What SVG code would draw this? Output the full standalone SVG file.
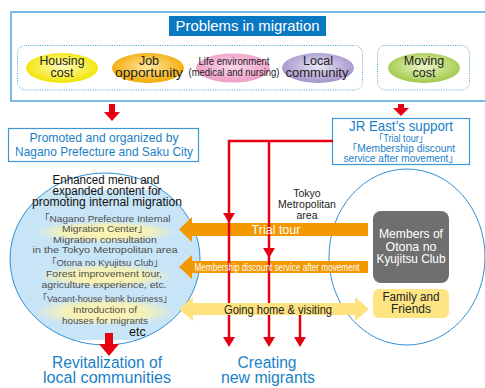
<svg xmlns="http://www.w3.org/2000/svg" width="485" height="388" viewBox="0 0 485 388">
<defs>
<style>
text{font-family:"Liberation Sans","Noto Sans CJK JP",sans-serif;text-anchor:middle}
.dot{fill:none;stroke:#4a9fd8;stroke-width:1;stroke-dasharray:1 1.4}
.red{fill:none;stroke:#e50012;stroke-width:2.5}
.redf{fill:#e50012}
.org{fill:#f39800}
.blue{fill:#1a7fc7}
.bx{fill:#fff;stroke:#3d97d6;stroke-width:1.2}
.el{font-size:12.5px;fill:#222}
.gr{font-size:9.8px;fill:#4d4d4d}
.hd{font-size:12px;fill:#111}
</style>
<marker id="ah" viewBox="0 0 10 12" refX="4" refY="6" markerWidth="10" markerHeight="12" markerUnits="userSpaceOnUse" orient="auto">
<path d="M0,0 L10,6 L0,12 z" fill="#e50012"/>
</marker>
<radialGradient id="gH" cx="50%" cy="45%" r="55%"><stop offset="0" stop-color="#fffcc0"/><stop offset="1" stop-color="#f2e400"/></radialGradient>
<radialGradient id="gJ" cx="50%" cy="45%" r="55%"><stop offset="0" stop-color="#ffe9a0"/><stop offset="1" stop-color="#f2a800"/></radialGradient>
<radialGradient id="gL" cx="50%" cy="45%" r="55%"><stop offset="0" stop-color="#fcd8e9"/><stop offset="1" stop-color="#ee9cc6"/></radialGradient>
<radialGradient id="gC" cx="50%" cy="45%" r="55%"><stop offset="0" stop-color="#e8e3f3"/><stop offset="1" stop-color="#a393cb"/></radialGradient>
<radialGradient id="gM" cx="50%" cy="45%" r="55%"><stop offset="0" stop-color="#eaf4c6"/><stop offset="1" stop-color="#a2c94a"/></radialGradient>
<radialGradient id="glow" cx="50%" cy="50%" r="50%"><stop offset="0" stop-color="#fff6b0"/><stop offset="0.6" stop-color="#fff3a8" stop-opacity="0.8"/><stop offset="1" stop-color="#fff3a8" stop-opacity="0"/></radialGradient>
<clipPath id="cl"><ellipse cx="105" cy="259" rx="95" ry="86"/></clipPath>
</defs>

<g id="problems">
<rect x="11" y="12" width="480" height="89" fill="#fff" stroke="#5aaae0" stroke-width="1.6"/>
<rect x="169" y="16" width="157" height="20" fill="#0b78c2"/>
<text x="247.5" y="31" font-size="14.5" fill="#fff" textLength="144" lengthAdjust="spacingAndGlyphs">Problems in migration</text>
<rect class="dot" x="17.5" y="45.5" width="345" height="44.5" rx="8"/>
<rect class="dot" x="377.5" y="45.5" width="92" height="44.5" rx="8"/>
</g>

<g id="housing">
<ellipse cx="62" cy="68" rx="36" ry="15" fill="url(#gH)"/>
<text class="el" x="62" y="65" textLength="45" lengthAdjust="spacingAndGlyphs">Housing</text>
<text class="el" x="62" y="77">cost</text>
</g>
<g id="job">
<ellipse cx="148" cy="68" rx="36" ry="15" fill="url(#gJ)"/>
<text class="el" x="149" y="65">Job</text>
<text class="el" x="149" y="77" textLength="68" lengthAdjust="spacingAndGlyphs">opportunity</text>
</g>
<g id="life">
<ellipse cx="233" cy="68" rx="37" ry="14.5" fill="url(#gL)"/>
<text x="234" y="65" font-size="10" fill="#222" textLength="71" lengthAdjust="spacingAndGlyphs">Life environment</text>
<text x="234" y="76" font-size="10" fill="#222" textLength="91" lengthAdjust="spacingAndGlyphs">(medical and nursing)</text>
</g>
<g id="local">
<ellipse cx="318" cy="68" rx="36" ry="15" fill="url(#gC)"/>
<text class="el" x="318" y="65">Local</text>
<text class="el" x="317" y="77" textLength="63" lengthAdjust="spacingAndGlyphs">community</text>
</g>
<g id="moving">
<ellipse cx="424" cy="68" rx="36" ry="15" fill="url(#gM)"/>
<text class="el" x="424" y="65">Moving</text>
<text class="el" x="424" y="77">cost</text>
</g>

<g id="promoted">
<rect class="bx" x="8.5" y="128.5" width="190" height="33"/>
<text class="blue" x="104" y="142" font-size="13" textLength="149" lengthAdjust="spacingAndGlyphs">Promoted and organized by</text>
<text class="blue" x="104" y="156" font-size="13" textLength="178" lengthAdjust="spacingAndGlyphs">Nagano Prefecture and Saku City</text>
</g>

<g id="jreast">
<rect class="bx" x="332.5" y="118.5" width="137" height="46"/>
<text class="blue" x="401" y="131" font-size="15" textLength="104" lengthAdjust="spacingAndGlyphs">JR East’s support</text>
<text class="blue" x="401" y="142" font-size="10" textLength="54" lengthAdjust="spacingAndGlyphs">「Trial tour」</text>
<text class="blue" x="401" y="152" font-size="10" textLength="108" lengthAdjust="spacingAndGlyphs">「Membership discount</text>
<text class="blue" x="401" y="162" font-size="10" textLength="115" lengthAdjust="spacingAndGlyphs">service after movement」</text>
</g>

<g id="internal">
<rect x="10" y="190" width="190" height="150" fill="#c8e5f7" clip-path="url(#cl)"/>
<polygon points="10,170 42,170 10,200" fill="#fff"/>
<polygon points="172,170 200,170 200,198" fill="#fff"/>
<polygon points="10,318 32,340 10,340" fill="#fff"/>
<polygon points="200,312 173,340 200,340" fill="#fff"/>
<ellipse cx="105" cy="259" rx="95" ry="86" fill="none" stroke="#2f8fd6" stroke-width="1"/>
<ellipse cx="106" cy="232" rx="72" ry="11" fill="url(#glow)"/>
<ellipse cx="106" cy="276" rx="68" ry="12" fill="url(#glow)"/>
<ellipse cx="105" cy="312" rx="70" ry="14" fill="url(#glow)"/>
<text class="hd" x="106" y="184" textLength="107" lengthAdjust="spacingAndGlyphs">Enhanced menu and</text>
<text class="hd" x="107" y="195" textLength="109" lengthAdjust="spacingAndGlyphs">expanded content for</text>
<text class="hd" x="107" y="206" textLength="150" lengthAdjust="spacingAndGlyphs">promoting internal migration</text>
<text class="gr" x="105" y="222" textLength="131" lengthAdjust="spacingAndGlyphs">「Nagano Prefecture Internal</text>
<text class="gr" x="105" y="232" textLength="86" lengthAdjust="spacingAndGlyphs">Migration Center」</text>
<text class="gr" x="105" y="243" textLength="104" lengthAdjust="spacingAndGlyphs">Migration consultation</text>
<text class="gr" x="105" y="253" textLength="145" lengthAdjust="spacingAndGlyphs">in the Tokyo Metropolitan area</text>
<text class="gr" x="105" y="266" textLength="116" lengthAdjust="spacingAndGlyphs">「Otona no Kyujitsu Club」</text>
<text class="gr" x="104" y="277" textLength="116" lengthAdjust="spacingAndGlyphs">Forest improvement tour,</text>
<text class="gr" x="104" y="288" textLength="125" lengthAdjust="spacingAndGlyphs">agriculture experience, etc.</text>
<text class="gr" x="105" y="302" textLength="134" lengthAdjust="spacingAndGlyphs">「Vacant-house bank business」</text>
<text class="gr" x="105" y="313" textLength="64" lengthAdjust="spacingAndGlyphs">Introduction of</text>
<text class="gr" x="105" y="324" textLength="86" lengthAdjust="spacingAndGlyphs">houses for migrants</text>
<text x="129" y="336" font-size="12.5" fill="#111" style="text-anchor:start">etc</text>
</g>

<g id="members-circle">
<ellipse cx="407" cy="257" rx="78" ry="88" fill="none" stroke="#2f8fd6" stroke-width="1"/>
</g>

<g id="tokyo">
<text x="307" y="197" font-size="10.5" fill="#222">Tokyo</text>
<text x="307" y="208" font-size="10.5" fill="#222">Metropolitan</text>
<text x="307" y="219" font-size="10.5" fill="#222">area</text>
</g>

<g id="connectors">
<polygon class="redf" points="109,104 115,104 115,112 120,112 112,121 104,112 109,112"/>
<polygon class="redf" points="398,104 404,104 404,108 409,108 401,116 393,108 398,108"/>
<polygon class="org" points="179,229.5 192,217 192,223 368,223 368,236 192,236 192,242"/>
<polygon class="org" points="179,267 192,255 192,261 368,261 368,273 192,273 192,279"/>
<path class="red" d="M333,141 H229 V217" marker-end="url(#ah)"/>
<path class="red" d="M229,217 V341" marker-end="url(#ah)"/>
<path class="red" d="M269,141 V252" marker-end="url(#ah)"/>
<path class="red" d="M269,252 V341" marker-end="url(#ah)"/>
<path class="red" d="M300,315 V341" marker-end="url(#ah)"/>
<polygon fill="#fde27e" points="179,309 193,297 193,303 355,303 355,297 369,309 355,321 355,315 193,315 193,321"/>
<text x="276" y="234" font-size="12.5" fill="#fff">Trial tour</text>
<text x="277" y="271" font-size="10" fill="#fff" textLength="165" lengthAdjust="spacingAndGlyphs">Membership discount service after movement</text>
<text x="278" y="313.5" font-size="12.5" fill="#222" textLength="108" lengthAdjust="spacingAndGlyphs">Going home &amp; visiting</text>
<polygon class="redf" points="105,333 113,333 113,344 119,344 109,356 99,344 105,344"/>
</g>

<g id="members">
<rect x="373" y="211" width="76" height="72" rx="8" fill="#6f6f6f"/>
<text x="411" y="238" font-size="12" fill="#fff" textLength="64" lengthAdjust="spacingAndGlyphs">Members of</text>
<text x="411" y="251" font-size="12" fill="#fff" textLength="51" lengthAdjust="spacingAndGlyphs">Otona no</text>
<text x="411" y="263" font-size="12" fill="#fff" textLength="69" lengthAdjust="spacingAndGlyphs">Kyujitsu Club</text>
</g>
<g id="family">
<rect x="373" y="289" width="76" height="29" rx="6" fill="#fde583"/>
<text x="411" y="301" font-size="12" fill="#222" textLength="57" lengthAdjust="spacingAndGlyphs">Family and</text>
<text x="411" y="313" font-size="12" fill="#222" textLength="40" lengthAdjust="spacingAndGlyphs">Friends</text>
</g>

<g id="revitalization">
<text class="blue" x="107" y="368" font-size="16" textLength="110" lengthAdjust="spacingAndGlyphs">Revitalization of</text>
<text class="blue" x="107" y="383" font-size="16" textLength="128" lengthAdjust="spacingAndGlyphs">local communities</text>
</g>
<g id="creating">
<text class="blue" x="267" y="368" font-size="16" textLength="59" lengthAdjust="spacingAndGlyphs">Creating</text>
<text class="blue" x="268" y="383" font-size="16" textLength="94" lengthAdjust="spacingAndGlyphs">new migrants</text>
</g>
</svg>
